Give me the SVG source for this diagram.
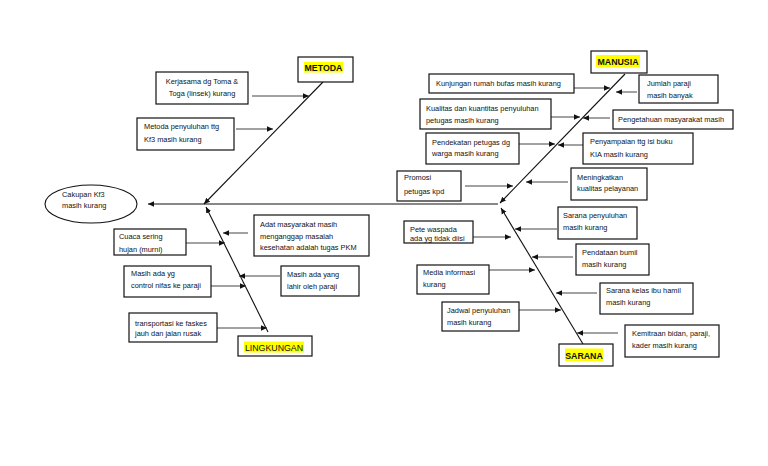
<svg xmlns="http://www.w3.org/2000/svg" width="768" height="466" viewBox="0 0 768 466">
<style>
.box{fill:#fff;stroke:#111;stroke-width:1.2}
.t{font-family:"Liberation Sans",Arial,sans-serif;font-size:7.4px;fill:#111}
.lbl{font-family:"Liberation Sans",Arial,sans-serif;font-size:8.8px;fill:#111}
.hl{fill:#ffff00}
.bone{stroke:#111;stroke-width:1.1;fill:none}
.arr{stroke:#444;stroke-width:1;fill:none}
</style>
<defs>
<marker id="ah" markerUnits="userSpaceOnUse" markerWidth="7" markerHeight="6" refX="6" refY="3" orient="auto">
<path d="M0,0.3 L6,3 L0,5.7 z" fill="#111"/>
</marker>
</defs>
<rect width="768" height="466" fill="#fff"/>

<g id="connectors">
<line class="bone" x1="498" y1="204" x2="148" y2="204" marker-end="url(#ah)"/>
<line class="bone" x1="323" y1="82" x2="204" y2="204" marker-end="url(#ah)"/>
<line class="bone" x1="625" y1="74" x2="500" y2="203" marker-end="url(#ah)"/>
<line class="bone" x1="268" y1="332" x2="206" y2="207" marker-end="url(#ah)"/>
<line class="bone" x1="583" y1="344" x2="501" y2="208" marker-end="url(#ah)"/>
<line class="arr" x1="252" y1="96" x2="309" y2="96" marker-end="url(#ah)"/>
<line class="arr" x1="236" y1="129" x2="273" y2="129" marker-end="url(#ah)"/>
<line class="arr" x1="248" y1="233" x2="223" y2="233" marker-end="url(#ah)"/>
<line class="arr" x1="186" y1="243" x2="225" y2="243" marker-end="url(#ah)"/>
<line class="arr" x1="280" y1="276" x2="239" y2="276" marker-end="url(#ah)"/>
<line class="arr" x1="211" y1="286" x2="246" y2="286" marker-end="url(#ah)"/>
<line class="arr" x1="217" y1="328" x2="267" y2="328" marker-end="url(#ah)"/>
<line class="arr" x1="574" y1="88" x2="610" y2="88" marker-end="url(#ah)"/>
<line class="arr" x1="637" y1="92" x2="616" y2="92" marker-end="url(#ah)"/>
<line class="arr" x1="551" y1="117" x2="580" y2="117" marker-end="url(#ah)"/>
<line class="arr" x1="610" y1="118" x2="583" y2="118" marker-end="url(#ah)"/>
<line class="arr" x1="519" y1="144" x2="555" y2="144" marker-end="url(#ah)"/>
<line class="arr" x1="583" y1="145" x2="558" y2="145" marker-end="url(#ah)"/>
<line class="arr" x1="465" y1="186" x2="513" y2="186" marker-end="url(#ah)"/>
<line class="arr" x1="568" y1="182" x2="526" y2="182" marker-end="url(#ah)"/>
<line class="arr" x1="473" y1="237" x2="511" y2="237" marker-end="url(#ah)"/>
<line class="arr" x1="557" y1="229" x2="515" y2="229" marker-end="url(#ah)"/>
<line class="arr" x1="573" y1="257" x2="532" y2="257" marker-end="url(#ah)"/>
<line class="arr" x1="489" y1="270" x2="535" y2="270" marker-end="url(#ah)"/>
<line class="arr" x1="597" y1="293" x2="556" y2="293" marker-end="url(#ah)"/>
<line class="arr" x1="519" y1="310" x2="561" y2="310" marker-end="url(#ah)"/>
<line class="arr" x1="618" y1="333" x2="577" y2="333" marker-end="url(#ah)"/>
</g>

<g id="effect">
<ellipse cx="91" cy="204" rx="46" ry="19" fill="#fff" stroke="#111" stroke-width="1.1"/>
<text class="t" x="62" y="196.5">Cakupan Kf3</text>
<text class="t" x="62" y="208">masih kurang</text>
</g>

<g id="metoda">
<rect class="box" x="298" y="57" width="55" height="25"/>
<rect class="hl" x="304" y="62" width="39" height="10.5"/>
<text class="lbl" x="323.5" y="70.8" text-anchor="middle" font-weight="bold">METODA</text>
</g>
<g id="manusia">
<rect class="box" x="591" y="51" width="56" height="22"/>
<rect class="hl" x="596" y="55" width="44" height="12.5"/>
<text class="lbl" x="618" y="65" text-anchor="middle" font-weight="bold">MANUSIA</text>
</g>
<g id="lingkungan">
<rect class="box" x="238" y="336" width="74" height="20"/>
<rect class="hl" x="244" y="341.5" width="60" height="11"/>
<text class="lbl" x="274" y="350.5" text-anchor="middle">LINGKUNGAN</text>
</g>
<g id="sarana">
<rect class="box" x="559" y="344" width="54" height="22"/>
<rect class="hl" x="565" y="348.5" width="38" height="12.5"/>
<text class="lbl" x="584" y="359" text-anchor="middle" font-weight="bold">SARANA</text>
</g>

<g id="n-kerjasama">
<rect class="box" x="156" y="72" width="92" height="32"/>
<text class="t" x="202" y="84" text-anchor="middle">Kerjasama dg Toma &amp;</text>
<text class="t" x="202" y="96" text-anchor="middle">Toga (linsek) kurang</text>
</g>
<g id="n-metodapenyuluhan">
<rect class="box" x="137" y="118" width="97" height="32"/>
<text class="t" x="144" y="128.5">Metoda penyuluhan ttg</text>
<text class="t" x="144" y="141.5">Kf3 masih kurang</text>
</g>
<g id="n-adat">
<rect class="box" x="254" y="215" width="115" height="41"/>
<text class="t" x="260" y="227">Adat masyarakat masih</text>
<text class="t" x="260" y="238.5">menganggap masalah</text>
<text class="t" x="260" y="250">kesehatan adalah tugas PKM</text>
</g>
<g id="n-cuaca">
<rect class="box" x="114" y="229" width="72" height="26"/>
<text class="t" x="119" y="238.5">Cuaca sering</text>
<text class="t" x="119" y="251.5">hujan (murni)</text>
</g>
<g id="n-masihadayg">
<rect class="box" x="124" y="266" width="87" height="31"/>
<text class="t" x="131" y="275.5">Masih ada yg</text>
<text class="t" x="131" y="287.5">control nifas ke paraji</text>
</g>
<g id="n-masihadayang">
<rect class="box" x="281" y="266" width="78" height="30"/>
<text class="t" x="287" y="276.5">Masih ada yang</text>
<text class="t" x="287" y="288.5">lahir oleh paraji</text>
</g>
<g id="n-transportasi">
<rect class="box" x="129" y="313" width="88" height="29"/>
<text class="t" x="135" y="325.5">transportasi ke faskes</text>
<text class="t" x="135" y="336">jauh dan jalan rusak</text>
</g>

<g id="n-kunjungan">
<rect class="box" x="429" y="74" width="145" height="19"/>
<text class="t" x="436" y="86">Kunjungan rumah bufas masih kurang</text>
</g>
<g id="n-kualitas">
<rect class="box" x="420" y="99" width="131" height="30"/>
<text class="t" x="426" y="110.5">Kualitas dan kuantitas penyuluhan</text>
<text class="t" x="426" y="122.5">petugas masih kurang</text>
</g>
<g id="n-pendekatan">
<rect class="box" x="426" y="133" width="93" height="31"/>
<text class="t" x="432" y="144.5">Pendekatan petugas dg</text>
<text class="t" x="432" y="155.5">warga masih kurang</text>
</g>
<g id="n-promosi">
<rect class="box" x="397" y="171" width="64" height="30"/>
<text class="t" x="404" y="179.5">Promosi</text>
<text class="t" x="404" y="193.5">petugas kpd</text>
</g>
<g id="n-jumlah">
<rect class="box" x="639" y="75" width="79" height="28"/>
<text class="t" x="647" y="85.5">Jumlah paraji</text>
<text class="t" x="647" y="97.5">masih banyak</text>
</g>
<g id="n-pengetahuan">
<rect class="box" x="613" y="110" width="120" height="19"/>
<text class="t" x="618" y="121.5">Pengetahuan masyarakat masih</text>
</g>
<g id="n-penyampaian">
<rect class="box" x="583" y="133" width="110" height="31"/>
<text class="t" x="590" y="143.5">Penyampaian ttg isi buku</text>
<text class="t" x="590" y="157">KIA masih kurang</text>
</g>
<g id="n-meningkatkan">
<rect class="box" x="571" y="168" width="76" height="32"/>
<text class="t" x="577" y="179.5">Meningkatkan</text>
<text class="t" x="577" y="191">kualitas pelayanan</text>
</g>

<g id="n-pete">
<rect class="box" x="404" y="221" width="69" height="22"/>
<text class="t" x="410" y="231.5">Pete waspada</text>
<text class="t" x="410" y="240.5">ada yg tidak diisi</text>
</g>
<g id="n-media">
<rect class="box" x="417" y="265" width="72" height="29"/>
<text class="t" x="423" y="274.5">Media informasi</text>
<text class="t" x="423" y="287">kurang</text>
</g>
<g id="n-jadwal">
<rect class="box" x="442" y="302" width="77" height="29"/>
<text class="t" x="447" y="312.5">Jadwal penyuluhan</text>
<text class="t" x="447" y="325">masih kurang</text>
</g>
<g id="n-saranapenyuluhan">
<rect class="box" x="558" y="207" width="79" height="32"/>
<text class="t" x="563" y="217.5">Sarana penyuluhan</text>
<text class="t" x="563" y="230">masih kurang</text>
</g>
<g id="n-pendataan">
<rect class="box" x="576" y="244" width="73" height="31"/>
<text class="t" x="582" y="254.5">Pendataan bumil</text>
<text class="t" x="582" y="266.5">masih kurang</text>
</g>
<g id="n-saranakelas">
<rect class="box" x="600" y="283" width="93" height="31"/>
<text class="t" x="606" y="292.5">Sarana kelas ibu hamil</text>
<text class="t" x="606" y="305">masih kurang</text>
</g>
<g id="n-kemitraan">
<rect class="box" x="625" y="325" width="94" height="32"/>
<text class="t" x="632" y="335.5">Kemitraan bidan, paraji,</text>
<text class="t" x="632" y="347.5">kader masih kurang</text>
</g>
</svg>
